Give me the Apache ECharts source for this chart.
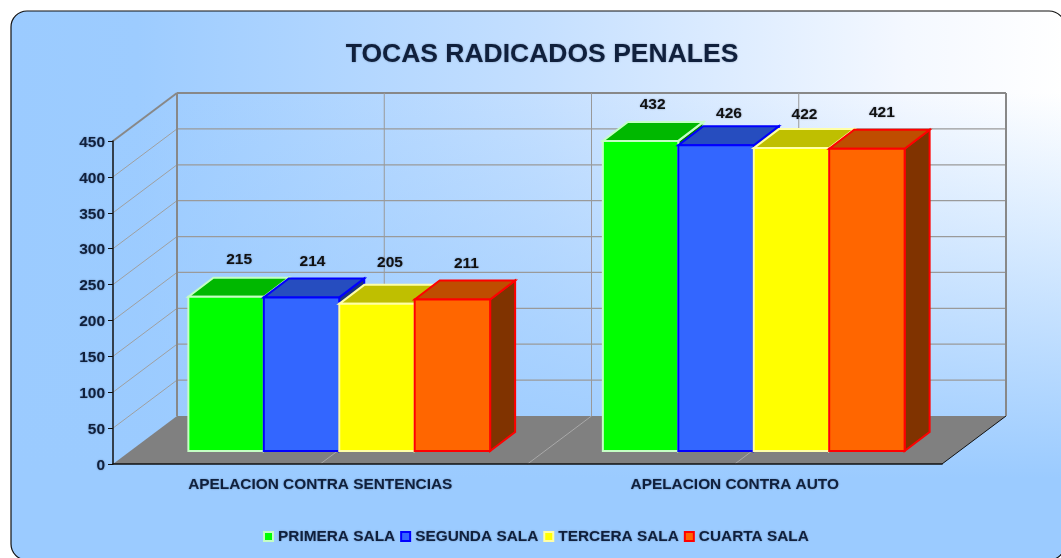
<!DOCTYPE html>
<html><head><meta charset="utf-8">
<style>html,body{margin:0;padding:0;background:#fff}#c{width:1061px;height:558px}</style>
<script src="https://cdn.jsdelivr.net/npm/echarts@6/dist/echarts.min.js"></script>
</head><body><div id="c"></div>
<script>
const categories = ['APELACION CONTRA SENTENCIAS', 'APELACION CONTRA AUTO'];
const salas = ['PRIMERA SALA', 'SEGUNDA SALA', 'TERCERA SALA', 'CUARTA SALA'];
const primera = [215, 432];
const segunda = [214, 426];
const tercera = [205, 422];
const cuarta = [211, 421];
const yTicks = [0, 50, 100, 150, 200, 250, 300, 350, 400, 450];

const seriesValues = [primera, segunda, tercera, cuarta];
const palette = [
  {face:'#00ff00', line:'#c4ffc4', top:'#00b800', side:'#008000'},
  {face:'#3366ff', line:'#0000ff', top:'#264dbf', side:'#1a3380'},
  {face:'#ffff00', line:'#ffffa6', top:'#bfbf00', side:'#808000'},
  {face:'#ff6600', line:'#ff0000', top:'#bf4d00', side:'#803300'}
];
const WALL_DX = 64, WALL_DY = 48, BAR_DX = 25, BAR_DY = 19, FRONT_DX = 19, FRONT_DY = 13, BAR_SHARE = 0.182;
const textColor = '#10203c';
const shadow = {textShadowColor:'rgba(40,60,100,0.5)', textShadowBlur:2};

function wallItem(params, api) {
  const v = api.value(0);
  const band = api.size([1, 0])[0];
  const p0 = api.coord([0, v]), p1 = api.coord([1, v]);
  const xl = p0[0] - band / 2, xr = p1[0] + band / 2, y = p0[1];
  const kids = [];
  const line = (x1, y1, x2, y2, stroke, w) => kids.push({type:'line', shape:{x1, y1, x2, y2}, style:{stroke, lineWidth:w}});
  if (v === 0) {
    kids.push({type:'polygon', shape:{points:[[xl, y], [xl + WALL_DX, y - WALL_DY], [xr + WALL_DX, y - WALL_DY], [xr, y]]}, style:{fill:'#808080'}});
    [p0[0], xl + band, p1[0]].forEach(x => line(x, y, x + WALL_DX, y - WALL_DY, '#a8a8a8', 1));
    line(xr, y, xr + WALL_DX, y - WALL_DY, '#111', 1);
  } else {
    const top = v === yTicks[yTicks.length - 1];
    line(xl, y, xl + WALL_DX, y - WALL_DY, top ? '#888' : '#a0a0a0', top ? 2 : 1);
    line(xl + WALL_DX, y - WALL_DY, xr + WALL_DX, y - WALL_DY, top ? '#888' : '#9a9a9a', top ? 2 : 1.2);
    if (top) {
      const yb = api.coord([0, 0])[1] - WALL_DY;
      [p0[0], xl + band, p1[0]].forEach(x => line(x + WALL_DX, y - WALL_DY, x + WALL_DX, yb, '#999', 1));
      line(xl + WALL_DX, y - WALL_DY, xl + WALL_DX, yb, '#888', 2);
      line(xr + WALL_DX, y - WALL_DY, xr + WALL_DX, yb, '#888', 2);
    }
  }
  return {type:'group', children:kids};
}

function barRenderer(si) {
  const c = palette[si];
  return function (params, api) {
    const cat = api.value(0), v = api.value(1);
    const base = api.coord([cat, 0]), tip = api.coord([cat, v]);
    const w = api.size([1, 0])[0] * BAR_SHARE;
    const x0 = base[0] + FRONT_DX + (si - 2) * w, x1 = x0 + w;
    const yb = base[1] - FRONT_DY;
    const top = yb - (base[1] - tip[1]);
    const st = {stroke:c.line, lineWidth:2, lineJoin:'miter'};
    const nx = cat === 0 ? [0,-2,0,1][si] : [-1,0,0,2][si];
    const ny = cat === 0 ? [0,1,-4,1][si] : [1,5,4,1][si];
    return {type:'group', children:[
      {type:'polygon', shape:{points:[[x1, yb], [x1 + BAR_DX, yb - BAR_DY], [x1 + BAR_DX, top - BAR_DY], [x1, top]]}, style:{fill:c.side, ...st}},
      {type:'polygon', shape:{points:[[x0, top], [x0 + BAR_DX, top - BAR_DY], [x1 + BAR_DX, top - BAR_DY], [x1, top]]}, style:{fill:c.top, ...st}},
      {type:'rect', shape:{x:x0, y:top, width:w, height:yb - top}, style:{fill:c.face, ...st}},
      {type:'text', style:{x:x0 + w / 2 + 13 + nx, y:top - BAR_DY - 18 + ny, text:String(v), fill:'#111', font:'bold 15.5px "Liberation Sans"', align:'center', verticalAlign:'middle', ...shadow}}
    ]};
  };
}

const horiz = new echarts.graphic.LinearGradient(0, 0, 1, 0, [
  {offset:0, color:'#9bcbff'},
  {offset:0.12, color:'#9dccff'},
  {offset:0.5, color:'#c4dfff'},
  {offset:0.85, color:'#f4f8ff'},
  {offset:1, color:'#ffffff'}
]);
const vert = new echarts.graphic.LinearGradient(0, 0, 0, 1, [
  {offset:0, color:'rgba(155,203,255,0)'},
  {offset:0.15, color:'rgba(155,203,255,0)'},
  {offset:0.85, color:'rgba(155,203,255,1)'},
  {offset:1, color:'rgba(155,203,255,1)'}
]);
const panel = {x:11, y:11, width:1054, height:549, r:16};

const chart = echarts.init(document.getElementById('c'), null, {renderer:'canvas'});
chart.setOption({
  animation:false,
  backgroundColor:'#fff',
  graphic:[
    {type:'rect', z:-10, silent:true, shape:panel, style:{fill:horiz}},
    {type:'rect', z:-9, silent:true, shape:panel, style:{fill:vert, stroke:'#111', lineWidth:1.2}}
  ],
  title:{text:'TOCAS RADICADOS PENALES', left:537, top:36, textAlign:'center', textStyle:{fontFamily:'Liberation Sans', fontWeight:'bold', fontSize:26.5, color:'#10203c', ...shadow}},
  grid:{left:113, right:119, top:141, bottom:94},
  xAxis:{type:'category', data:categories, z:5,
    axisLine:{lineStyle:{color:'#111', width:1.5}}, axisTick:{length:5, lineStyle:{color:'#111'}},
    axisLabel:{margin:13, interval:0, fontFamily:'Liberation Sans', fontWeight:'bold', fontSize:15.4, color:textColor, ...shadow}, splitLine:{show:false}},
  yAxis:{type:'value', min:0, max:450, interval:50, z:5,
    axisLine:{show:true, lineStyle:{color:'#111', width:1.5}}, axisTick:{show:true, length:5, lineStyle:{color:'#111'}},
    axisLabel:{margin:8, verticalAlign:'top', lineHeight:3, fontFamily:'Liberation Sans', fontWeight:'bold', fontSize:15.5, color:textColor, ...shadow}, splitLine:{show:false}},
  legend:{data:salas, left:258, top:524, itemWidth:9, itemHeight:9, itemGap:5, icon:'rect',
    textStyle:{fontFamily:'Liberation Sans', fontWeight:'bold', fontSize:15.4, color:textColor, ...shadow}},
  series:[
    {type:'custom', name:'walls', z:1, silent:true, data:yTicks.map(v => [v]), encode:{y:0}, renderItem:wallItem, clip:false},
    ...salas.map((name, si) => ({
      type:'custom', name, z:3 + si, clip:false,
      itemStyle:{color:palette[si].face, borderColor:palette[si].line, borderWidth:2},
      data:seriesValues[si].map((v, i) => [i, v]), encode:{x:0, y:1}, renderItem:barRenderer(si)
    }))
  ]
});
</script></body></html>
